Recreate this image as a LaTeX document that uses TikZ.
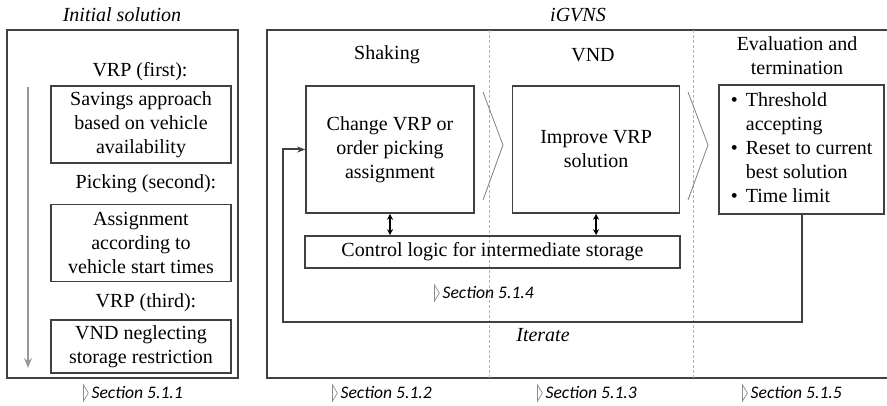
\documentclass[tikz,border=0pt]{standalone}
\usepackage{fontspec}
\setmainfont{Liberation Serif}
\newfontfamily\secfont{Carlito}
\usepackage{tikz}
\usetikzlibrary{arrows.meta, positioning}

\newcommand{\secmark}{\tikz[baseline=0pt]\draw[black!45, line width=0.35pt] (0pt,-1.4pt) -- (2.4pt,2.6pt) -- (0pt,6.6pt) -- cycle;}
\newcommand{\secref}[1]{{\secfont\itshape\fontsize{8.8}{10}\selectfont\secmark\,Section #1}}

\begin{document}
\begin{tikzpicture}[
    x=0.5pt, y=-0.5pt,
    font=\fontsize{10}{12}\selectfont,
    box/.style={rectangle, draw=black!75, line width=0.8pt, align=center, inner sep=1pt},
    outerframe/.style={draw=black!75, line width=0.8pt},
    divider/.style={draw=black!30, line width=0.4pt, dash pattern=on 1.5pt off 1pt},
    chevron/.style={draw=black!50, line width=0.4pt},
    heading/.style={font=\itshape\fontsize{10}{12}\selectfont},
    phase/.style={align=center, inner sep=0pt},
    flow/.style={-{Stealth[length=5pt,width=4pt]}, draw=black!40, line width=1pt},
    link/.style={{Stealth[length=3pt,width=3pt]}-{Stealth[length=3pt,width=3pt]}, line width=0.8pt},
    iterline/.style={-{Stealth[length=4pt,width=3pt]}, draw=black!75, line width=1pt},
    secnode/.style={inner sep=0pt}
]
    \useasboundingbox (0,0) rectangle (887,406);

    % Frames and phase dividers
    \draw[outerframe] (7,30) rectangle (238,378);
    \draw[outerframe] (887,30) -- (267,30) -- (267,378) -- (887,378);
    \draw[divider] (489,30) -- (489,378);
    \draw[divider] (693,30) -- (693,378);

    % Titles
    \node[heading] (init) at (122,15) {Initial solution};
    \node[heading] (igvns) at (578,15) {iGVNS};

    % Initial solution
    \node[phase] (first) at (140,72) {VRP (first):};
    \node[box, minimum width=90pt, minimum height=38.5pt] (savings) at (141,124.5) {Savings approach\\based on vehicle\\availability};
    \node[phase] (second) at (146,184) {Picking (second):};
    \node[box, minimum width=90pt, minimum height=38.5pt, below=20pt of savings] (assign) {Assignment\\according to\\vehicle start times};
    \node[phase] (third) at (146,303) {VRP (third):};
    \node[box, minimum width=90pt, minimum height=26.5pt, below=18.5pt of assign] (neglect) {VND neglecting\\storage restriction};
    \coordinate (flowtop) at (28,87);
    \coordinate (flowend) at (28,368);
    \draw[flow] (flowtop) -- (flowend);

    % Phase headings
    \node[phase] (shaking) at (387,55) {Shaking};
    \node[phase] (vndhead) at (593,55) {VND};
    \node[phase] (evalhead) at (797,56) {Evaluation and\\termination};

    % iGVNS blocks
    \node[box, minimum width=84pt, minimum height=63.5pt] (shake) at (390,149.5) {Change VRP or\\order picking\\assignment};
    \node[box, minimum width=83.5pt, minimum height=63.5pt, right=18.5pt of shake] (vnd) {Improve VRP\\solution};
    \node[box, minimum width=82.5pt, minimum height=64.5pt, right=19pt of vnd] (eval) {%
        \begin{tabular}{@{}l@{\hspace{4pt}}l@{}}
        \textbullet & Threshold\\
                    & accepting\\
        \textbullet & Reset to current\\
                    & best solution\\
        \textbullet & Time limit
        \end{tabular}};
    \node[box, minimum width=187.5pt, minimum height=16pt] (ctrl) at (492.5,252) {Control logic for intermediate storage};

    % Chevrons
    \draw[chevron] (483,92) -- (503,145) -- (483,200);
    \draw[chevron] (688,92) -- (708,145) -- (688,200);

    % Arrows
    \draw[link] (shake.south) -- (shake.south |- ctrl.north);
    \draw[link] (vnd.south) -- (vnd.south |- ctrl.north);
    \coordinate (back) at (283,322);
    \draw[iterline] (eval.south) |- (back) |- (shake.west);
    \node[heading] (iterate) at (543,335) {Iterate};

    % Section references
    \node[secnode] (sec4) at (484,293) {\secref{5.1.4}};
    \node[secnode] (sec1) at (133,393) {\secref{5.1.1}};
    \node[secnode] (sec2) at (382,393) {\secref{5.1.2}};
    \node[secnode] (sec3) at (587,393) {\secref{5.1.3}};
    \node[secnode] (sec5) at (792,393) {\secref{5.1.5}};

\end{tikzpicture}
\end{document}
